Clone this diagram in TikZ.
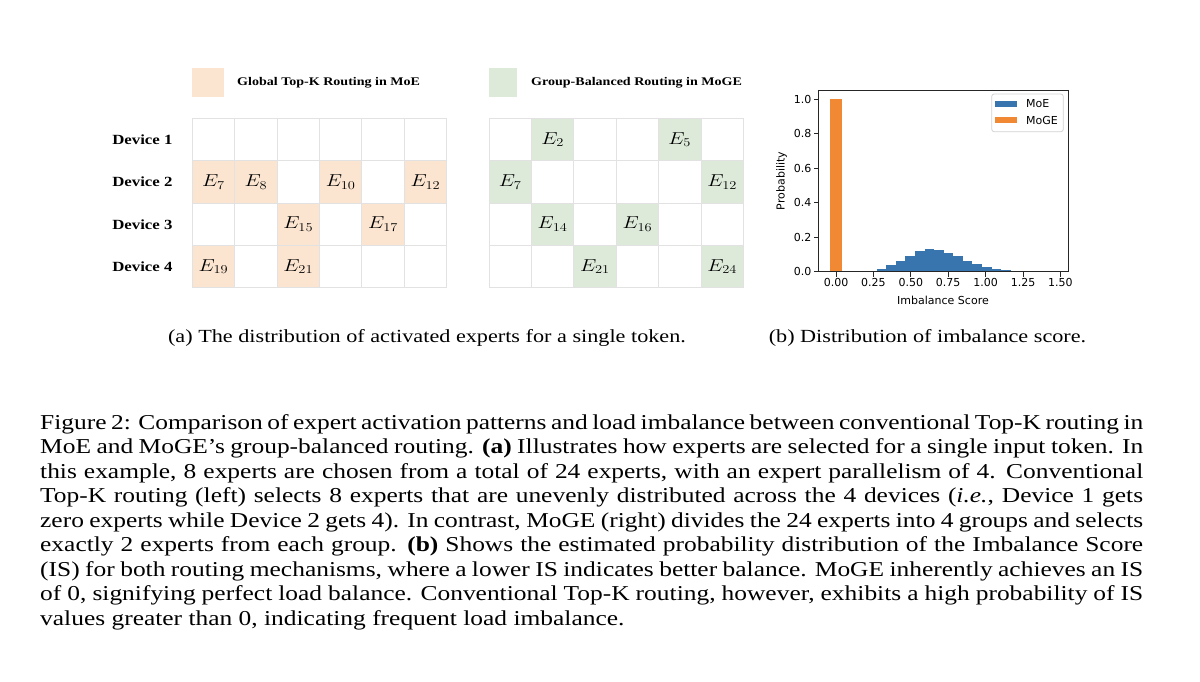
\documentclass[tikz,border=0pt]{standalone}
\usepackage{fontspec}
\usepackage{graphicx}
\setmainfont[FakeStretch=1.2]{Liberation Serif}
\newfontfamily\plotfont{DejaVu Sans}

\definecolor{peach}{RGB}{251,229,208}
\definecolor{sage}{RGB}{221,234,218}
\definecolor{gridgray}{RGB}{226,226,226}
\definecolor{moeblue}{RGB}{56,116,174}
\definecolor{mogeorange}{RGB}{240,136,52}
\definecolor{legendgray}{RGB}{210,210,210}

\tikzset{
  gridline/.style={draw=gridgray,line width=0.9pt},
  devlabel/.style={inner sep=0pt,font=\fontsize{14}{14}\selectfont\bfseries},
  legtext/.style={inner sep=0pt,anchor=west,font=\fontsize{11.7}{12}\selectfont\bfseries},
  cell/.style={inner sep=0pt,font=\fontsize{18}{18}\selectfont},
  axisline/.style={draw=black!85,line width=0.8pt},
  ticklabel/.style={inner sep=0pt,font=\plotfont\fontsize{11}{11}\selectfont},
  captext/.style={inner sep=0pt,align=left,font=\fontsize{21.2}{24.5}\selectfont},
  subcap/.style={inner sep=0pt,font=\fontsize{18.5}{20}\selectfont}
}
\newcommand{\ex}[1]{\scalebox{1.2}[1]{$E_{#1}$}}

\begin{document}
\begin{tikzpicture}[x=1pt,y=-1pt]
\fill[white] (0,0) rectangle (1200,681);
\useasboundingbox (0,0) rectangle (1200,681);

% legends of panel (a)
\fill[peach] (192,68) rectangle (223.7,96.5);
\node[legtext] (legmoe) at (237,83) {Global Top-K Routing in MoE};
\fill[sage] (489,68) rectangle (516.7,96.5);
\node[legtext] (legmoge) at (531,83) {Group-Balanced Routing in MoGE};

\node[devlabel] (dev1) at (142.4,139.5) {Device 1};
\node[devlabel] (dev2) at (142.4,181.9) {Device 2};
\node[devlabel] (dev3) at (142.4,224.3) {Device 3};
\node[devlabel] (dev4) at (142.4,266.7) {Device 4};

% global top-k grid
\begin{scope}[shift={(192.3,118.3)},x=42.4pt,y=-42.4pt]
\fill[peach] (0,1) rectangle (1,2);
\fill[peach] (1,1) rectangle (2,2);
\fill[peach] (3,1) rectangle (4,2);
\fill[peach] (5,1) rectangle (6,2);
\fill[peach] (2,2) rectangle (3,3);
\fill[peach] (4,2) rectangle (5,3);
\fill[peach] (0,3) rectangle (1,4);
\fill[peach] (2,3) rectangle (3,4);

\path[gridline] (0,0) -- (6,0);
\path[gridline] (0,1) -- (6,1);
\path[gridline] (0,2) -- (6,2);
\path[gridline] (0,3) -- (6,3);
\path[gridline] (0,4) -- (6,4);
\path[gridline] (0,0) -- (0,4);
\path[gridline] (1,0) -- (1,4);
\path[gridline] (2,0) -- (2,4);
\path[gridline] (3,0) -- (3,4);
\path[gridline] (4,0) -- (4,4);
\path[gridline] (5,0) -- (5,4);
\path[gridline] (6,0) -- (6,4);

\node[cell] (g7) at (0.5,1.5) {\ex{7}};
\node[cell] (g8) at (1.5,1.5) {\ex{8}};
\node[cell] (g10) at (3.5,1.5) {\ex{10}};
\node[cell] (g12) at (5.5,1.5) {\ex{12}};
\node[cell] (g15) at (2.5,2.5) {\ex{15}};
\node[cell] (g17) at (4.5,2.5) {\ex{17}};
\node[cell] (g19) at (0.5,3.5) {\ex{19}};
\node[cell] (g21) at (2.5,3.5) {\ex{21}};
\end{scope}

% group-balanced grid
\begin{scope}[shift={(489,118.3)},x=42.4pt,y=-42.4pt]
\fill[sage] (1,0) rectangle (2,1);
\fill[sage] (4,0) rectangle (5,1);
\fill[sage] (0,1) rectangle (1,2);
\fill[sage] (5,1) rectangle (6,2);
\fill[sage] (1,2) rectangle (2,3);
\fill[sage] (3,2) rectangle (4,3);
\fill[sage] (2,3) rectangle (3,4);
\fill[sage] (5,3) rectangle (6,4);

\path[gridline] (0,0) -- (6,0);
\path[gridline] (0,1) -- (6,1);
\path[gridline] (0,2) -- (6,2);
\path[gridline] (0,3) -- (6,3);
\path[gridline] (0,4) -- (6,4);
\path[gridline] (0,0) -- (0,4);
\path[gridline] (1,0) -- (1,4);
\path[gridline] (2,0) -- (2,4);
\path[gridline] (3,0) -- (3,4);
\path[gridline] (4,0) -- (4,4);
\path[gridline] (5,0) -- (5,4);
\path[gridline] (6,0) -- (6,4);

\node[cell] (b2) at (1.5,0.5) {\ex{2}};
\node[cell] (b5) at (4.5,0.5) {\ex{5}};
\node[cell] (b7) at (0.5,1.5) {\ex{7}};
\node[cell] (b12) at (5.5,1.5) {\ex{12}};
\node[cell] (b14) at (1.5,2.5) {\ex{14}};
\node[cell] (b16) at (3.5,2.5) {\ex{16}};
\node[cell] (b21) at (2.5,3.5) {\ex{21}};
\node[cell] (b24) at (5.5,3.5) {\ex{24}};
\end{scope}

% histogram of the imbalance score
\begin{scope}[shift={(836,271.7)},x=149.6pt,y=172.4pt]
\fill[mogeorange] (-0.04,0) rectangle (0.04,1);
\fill[moeblue] (0.208,0) rectangle (0.272,0.006);
\fill[moeblue] (0.272,0) rectangle (0.336,0.015);
\fill[moeblue] (0.336,0) rectangle (0.400,0.040);
\fill[moeblue] (0.400,0) rectangle (0.464,0.062);
\fill[moeblue] (0.464,0) rectangle (0.528,0.093);
\fill[moeblue] (0.528,0) rectangle (0.592,0.118);
\fill[moeblue] (0.592,0) rectangle (0.656,0.130);
\fill[moeblue] (0.656,0) rectangle (0.720,0.126);
\fill[moeblue] (0.720,0) rectangle (0.784,0.108);
\fill[moeblue] (0.784,0) rectangle (0.848,0.089);
\fill[moeblue] (0.848,0) rectangle (0.912,0.062);
\fill[moeblue] (0.912,0) rectangle (0.976,0.043);
\fill[moeblue] (0.976,0) rectangle (1.040,0.025);
\fill[moeblue] (1.040,0) rectangle (1.104,0.015);
\fill[moeblue] (1.104,0) rectangle (1.168,0.008);
\fill[moeblue] (1.168,0) rectangle (1.232,0.004);
\fill[moeblue] (1.232,0) rectangle (1.296,0.002);

\path[axisline] (-0.116,0) rectangle (1.551,1.05);

\path[axisline] (0,0) -- ++(0,-5pt);
\path[axisline] (0.25,0) -- ++(0,-5pt);
\path[axisline] (0.5,0) -- ++(0,-5pt);
\path[axisline] (0.75,0) -- ++(0,-5pt);
\path[axisline] (1,0) -- ++(0,-5pt);
\path[axisline] (1.25,0) -- ++(0,-5pt);
\path[axisline] (1.5,0) -- ++(0,-5pt);
\node[ticklabel,anchor=north] (x0) at ([yshift=-6.5pt]0,0) {0.00};
\node[ticklabel,anchor=north] (x1) at ([yshift=-6.5pt]0.25,0) {0.25};
\node[ticklabel,anchor=north] (x2) at ([yshift=-6.5pt]0.5,0) {0.50};
\node[ticklabel,anchor=north] (x3) at ([yshift=-6.5pt]0.75,0) {0.75};
\node[ticklabel,anchor=north] (x4) at ([yshift=-6.5pt]1,0) {1.00};
\node[ticklabel,anchor=north] (x5) at ([yshift=-6.5pt]1.25,0) {1.25};
\node[ticklabel,anchor=north] (x6) at ([yshift=-6.5pt]1.5,0) {1.50};

\path[axisline] (-0.116,0) -- ++(-5pt,0);
\path[axisline] (-0.116,0.2) -- ++(-5pt,0);
\path[axisline] (-0.116,0.4) -- ++(-5pt,0);
\path[axisline] (-0.116,0.6) -- ++(-5pt,0);
\path[axisline] (-0.116,0.8) -- ++(-5pt,0);
\path[axisline] (-0.116,1) -- ++(-5pt,0);
\node[ticklabel,anchor=east] (y0) at ([xshift=-7pt]-0.116,0) {0.0};
\node[ticklabel,anchor=east] (y1) at ([xshift=-7pt]-0.116,0.2) {0.2};
\node[ticklabel,anchor=east] (y2) at ([xshift=-7pt]-0.116,0.4) {0.4};
\node[ticklabel,anchor=east] (y3) at ([xshift=-7pt]-0.116,0.6) {0.6};
\node[ticklabel,anchor=east] (y4) at ([xshift=-7pt]-0.116,0.8) {0.8};
\node[ticklabel,anchor=east] (y5) at ([xshift=-7pt]-0.116,1) {1.0};
\end{scope}

\node[ticklabel] (xlab) at (943,300) {Imbalance Score};
\node[ticklabel,rotate=90] (ylab) at (781.7,181) {Probability};

% legend of the histogram
\draw[legendgray,fill=white,rounded corners=2.5pt,line width=0.8pt] (991.7,94) rectangle (1063.3,131.7);
\fill[moeblue] (995,100.5) rectangle (1017,106.5);
\fill[mogeorange] (995,116.8) rectangle (1017,122.8);
\node[ticklabel,anchor=west] (legblue) at (1026,104) {MoE};
\node[ticklabel,anchor=west] (legorange) at (1026,120) {MoGE};

% sub-captions
\node[subcap] (suba) at (427,338) {(a) The distribution of activated experts for a single token.};
\node[subcap] (subb) at (927.5,338) {(b) Distribution of imbalance score.};

% caption
\node[captext,anchor=north west] (cap) at (40,414) {%
\makebox[1103pt][s]{Figure 2: Comparison of expert activation patterns and load imbalance between conventional Top-K routing in}\\
\makebox[1103pt][s]{MoE and MoGE's group-balanced routing. \textbf{(a)} Illustrates how experts are selected for a single input token. In}\\
\makebox[1103pt][s]{this example, 8 experts are chosen from a total of 24 experts, with an expert parallelism of 4. Conventional}\\
\makebox[1103pt][s]{Top-K routing (left) selects 8 experts that are unevenly distributed across the 4 devices (\textit{i.e.}, Device 1 gets}\\
\makebox[1103pt][s]{zero experts while Device 2 gets 4). In contrast, MoGE (right) divides the 24 experts into 4 groups and selects}\\
\makebox[1103pt][s]{exactly 2 experts from each group. \textbf{(b)} Shows the estimated probability distribution of the Imbalance Score}\\
\makebox[1103pt][s]{(IS) for both routing mechanisms, where a lower IS indicates better balance. MoGE inherently achieves an IS}\\
\makebox[1103pt][s]{of 0, signifying perfect load balance. Conventional Top-K routing, however, exhibits a high probability of IS}\\
values greater than 0, indicating frequent load imbalance.};
\end{tikzpicture}
\end{document}
